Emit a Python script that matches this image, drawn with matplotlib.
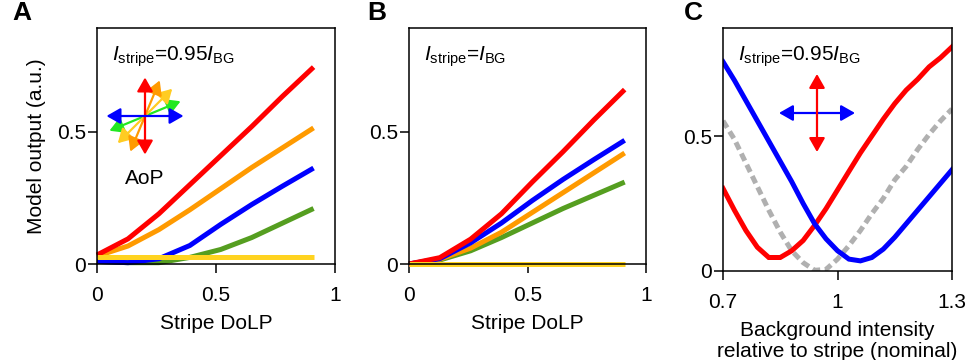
import numpy as np
import matplotlib
matplotlib.use("Agg")
import matplotlib.pyplot as plt

plt.rcParams["font.family"] = ["Liberation Sans", "DejaVu Sans"]
plt.rcParams["mathtext.fontset"] = "custom"
plt.rcParams["mathtext.rm"] = "Liberation Sans"
plt.rcParams["mathtext.it"] = "Liberation Sans:italic"
plt.rcParams["axes.linewidth"] = 1.1

# ---- data -------------------------------------------------------------
dolp = [0.0, 0.13, 0.26, 0.39, 0.52, 0.65, 0.78, 0.91]

# Panel A: I_stripe = 0.95 I_BG
a_red = [0.034, 0.095, 0.19, 0.30, 0.41, 0.52, 0.635, 0.745]
a_orange = [0.03, 0.068, 0.13, 0.205, 0.285, 0.365, 0.44, 0.515]
a_blue = [0.01, 0.005, 0.02, 0.07, 0.15, 0.225, 0.295, 0.363]
a_green = [0.01, 0.005, 0.005, 0.025, 0.055, 0.10, 0.155, 0.21]
a_yellow = [0.025, 0.025, 0.025, 0.025, 0.025, 0.025, 0.025, 0.025]

# Panel B: I_stripe = I_BG
b_red = [0.0, 0.024, 0.094, 0.19, 0.31, 0.425, 0.545, 0.66]
b_blue = [0.0, 0.02, 0.08, 0.155, 0.24, 0.32, 0.395, 0.468]
b_orange = [0.0, 0.018, 0.06, 0.12, 0.195, 0.27, 0.345, 0.42]
b_green = [0.0, 0.015, 0.05, 0.10, 0.155, 0.21, 0.26, 0.31]
b_yellow = [0.0, 0.0, 0.0, 0.0, 0.0, 0.0, 0.0, 0.0]

# Panel C: output vs background intensity
bg = [0.70, 0.73, 0.76, 0.79, 0.82, 0.85, 0.88, 0.91, 0.94, 0.97, 1.00,
      1.03, 1.06, 1.09, 1.12, 1.15, 1.18, 1.21, 1.24, 1.27, 1.30]
c_red = [0.306, 0.225, 0.15, 0.088, 0.05, 0.05, 0.075, 0.113, 0.169, 0.231, 0.30,
         0.369, 0.4375, 0.50, 0.5625, 0.62, 0.67, 0.71, 0.756, 0.79, 0.83]
c_blue = [0.775, 0.706, 0.631, 0.556, 0.481, 0.406, 0.331, 0.25, 0.175, 0.119, 0.075,
          0.044, 0.0375, 0.05, 0.081, 0.125, 0.175, 0.225, 0.275, 0.325, 0.375]
c_grey = [0.556, 0.4875, 0.40, 0.3125, 0.225, 0.144, 0.075, 0.031, 0.0025, 0.006, 0.044,
          0.094, 0.15, 0.2125, 0.269, 0.3375, 0.3875, 0.45, 0.506, 0.556, 0.60]

RED = "#FF0000"
ORANGE = "#FF9A00"
BLUE = "#0000FF"
GREEN = "#559E20"
YELLOW = "#FFD320"
GREY = "#B0B0B0"
LW = 3.6

W, H = 966, 360
fig = plt.figure(figsize=(W / 100, H / 100), dpi=100)


def px_axes(x0, y0, x1, y1):
    return fig.add_axes([x0 / W, 1 - y1 / H, (x1 - x0) / W, (y1 - y0) / H])


axA = px_axes(97, 28, 335, 264)
axB = px_axes(409, 28, 646, 264)
axC = px_axes(723, 28, 952, 271)


def style(ax):
    ax.tick_params(direction="out", length=6.5, width=1.1, labelsize=15)
    ax.tick_params(axis="x", pad=9)
    ax.tick_params(axis="y", pad=1.5)


for ax in (axA, axB):
    style(ax)
    ax.set_xlim(0, 1)
    ax.set_ylim(0, 0.893)
    ax.set_xticks([0, 0.5, 1])
    ax.set_xticklabels(["0", "0.5", "1"])
    ax.set_yticks([0, 0.5])
    ax.set_yticklabels(["0", "0.5"])
    ax.set_xlabel("Stripe DoLP", fontsize=15, labelpad=7)

axA.set_ylabel("Model output (a.u.)", fontsize=15, labelpad=8)

for ys, c in [(a_green, GREEN), (a_orange, ORANGE), (a_blue, BLUE),
              (a_red, RED), (a_yellow, YELLOW)]:
    axA.plot(dolp, ys, color=c, lw=LW, solid_joinstyle="miter",
             solid_capstyle="butt", clip_on=False)

for ys, c in [(b_green, GREEN), (b_orange, ORANGE), (b_blue, BLUE),
              (b_red, RED), (b_yellow, YELLOW)]:
    axB.plot(dolp, ys, color=c, lw=LW, solid_joinstyle="miter",
             solid_capstyle="butt", clip_on=False)

style(axC)
axC.set_xlim(0.7, 1.3)
axC.set_ylim(0, 0.9)
axC.set_xticks([0.7, 1.0, 1.3])
axC.set_xticklabels(["0.7", "1", "1.3"])
axC.set_yticks([0, 0.5])
axC.set_yticklabels(["0", "0.5"])
axC.set_xlabel("Background intensity\nrelative to stripe (nominal)",
               fontsize=15, labelpad=7, linespacing=1.1)
axC.plot(bg, c_grey, color=GREY, lw=LW, dashes=(1.6, 0.9))
axC.plot(bg, c_red, color=RED, lw=LW, solid_joinstyle="miter")
axC.plot(bg, c_blue, color=BLUE, lw=LW, solid_joinstyle="miter")

# Stimulus condition labels
for ax, txt in [(axA, r"$I_{\mathrm{stripe}}$=0.95$I_{\mathrm{BG}}$"),
                (axB, r"$I_{\mathrm{stripe}}$=$I_{\mathrm{BG}}$"),
                (axC, r"$I_{\mathrm{stripe}}$=0.95$I_{\mathrm{BG}}$")]:
    ax.annotate(txt, xy=(0, 1), xycoords="axes fraction", xytext=(11, -12),
                textcoords="offset points", ha="left", va="top", fontsize=15)

# Panel letters
for ax, letter, dx in [(axA, "A", -61), (axB, "B", -30), (axC, "C", -28)]:
    ax.annotate(letter, xy=(0, 1), xycoords="axes fraction", xytext=(dx, 2),
                textcoords="offset points", ha="left", va="bottom",
                fontsize=19, fontweight="bold")


def double_arrow(ax, cx, cy, angle_deg, half_px, color):
    """Double-headed arrow centred at pixel (cx, cy) of the figure."""
    pos = ax.get_position()
    axw, axh = pos.width * W, pos.height * H
    ax0, ay0 = pos.x0 * W, (1 - pos.y1) * H
    a = np.deg2rad(angle_deg)
    dx, dy = half_px * np.cos(a), half_px * np.sin(a)
    p1 = ((cx - dx - ax0) / axw, 1 - (cy + dy - ay0) / axh)
    p2 = ((cx + dx - ax0) / axw, 1 - (cy - dy - ay0) / axh)
    ax.annotate("", xy=p2, xycoords="axes fraction", xytext=p1,
                textcoords="axes fraction",
                arrowprops=dict(arrowstyle="<|-|>,head_length=0.42,head_width=0.24",
                                mutation_scale=20, color=color, lw=1.6,
                                shrinkA=0, shrinkB=0))


# AoP key: one double arrow per angle of polarization
for ang, col in [(22.5, "#22E822"), (45, "#FFCC22"), (67.5, ORANGE),
                 (90, RED), (0, BLUE)]:
    double_arrow(axA, 145, 116, ang, 38.5, col)
axA.text((145 - 97) / 238, (264 - 178) / 236, "AoP", transform=axA.transAxes,
         ha="center", va="center", fontsize=15)

double_arrow(axC, 817, 113, 0, 38, BLUE)
double_arrow(axC, 817, 113, 90, 39, RED)

fig.savefig("out.png", dpi=100)
